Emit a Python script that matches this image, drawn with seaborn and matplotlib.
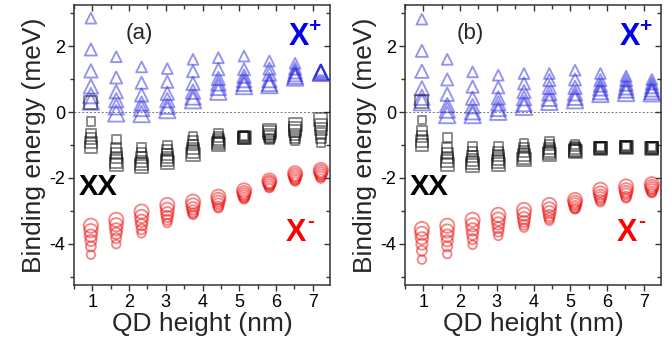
import numpy as np
import pandas as pd
import matplotlib
matplotlib.use("Agg")
import matplotlib.pyplot as plt
import seaborn as sns
from matplotlib.ticker import MultipleLocator

# QD heights (nm) of the ten simulated dot families
heights = [0.96, 1.65, 2.34, 3.04, 3.74, 4.43, 5.13, 5.82, 6.52, 7.22]
# lateral-size rank inside each family (small -> large marker)
size_rank = [0, 1, 2, 3, 4, 5]

# ---- panel (a) binding energies (meV), one row per height, ordered by size_rank
xplus_a = [
    [2.85, 1.90, 1.25, 0.78, 0.50, 0.32],
    [1.68, 1.05, 0.62, 0.36, 0.16, -0.04],
    [1.37, 0.89, 0.52, 0.26, 0.11, -0.06],
    [1.32, 0.92, 0.57, 0.36, 0.18, 0.06],
    [1.60, 1.24, 0.87, 0.62, 0.46, 0.36],
    [1.65, 1.30, 1.02, 0.87, 0.75, 0.62],
    [1.70, 1.30, 1.09, 0.97, 0.87, 0.79],
    [1.55, 1.32, 1.15, 0.97, 0.87, 0.82],
    [1.48, 1.32, 1.22, 1.15, 1.09, 1.05],
    [1.28, 1.25, 1.23, 1.21, 1.20, 1.19],
]
xx_a = [
    [-0.29, -0.65, -0.80, -0.92, -1.05, 0.30],
    [-0.83, -1.10, -1.25, -1.38, -1.50, -1.60],
    [-1.08, -1.25, -1.38, -1.50, -1.58, -1.65],
    [-1.00, -1.15, -1.28, -1.38, -1.45, -1.52],
    [-0.73, -0.88, -1.00, -1.10, -1.20, -1.28],
    [-0.65, -0.75, -0.83, -0.90, -0.95, -0.98],
    [-0.72, -0.74, -0.76, -0.77, -0.78, -0.78],
    [-0.83, -0.80, -0.75, -0.68, -0.62, -0.55],
    [-0.88, -0.78, -0.68, -0.58, -0.50, -0.39],
    [-0.92, -0.78, -0.65, -0.52, -0.39, -0.24],
]
xminus_a = [
    [-4.33, -4.08, -3.90, -3.75, -3.60, -3.45],
    [-4.01, -3.83, -3.68, -3.56, -3.42, -3.27],
    [-3.68, -3.56, -3.42, -3.30, -3.17, -3.02],
    [-3.37, -3.27, -3.17, -3.07, -2.95, -2.82],
    [-3.12, -3.07, -3.00, -2.92, -2.82, -2.72],
    [-2.92, -2.87, -2.79, -2.72, -2.65, -2.57],
    [-2.65, -2.60, -2.55, -2.50, -2.45, -2.38],
    [-2.31, -2.26, -2.21, -2.16, -2.13, -2.08],
    [-2.11, -2.06, -2.01, -1.96, -1.91, -1.86],
    [-2.02, -1.96, -1.91, -1.86, -1.81, -1.76],
]

# ---- panel (b)
xplus_b = [
    [2.82, 1.86, 1.24, 0.72, 0.45, 0.30],
    [1.60, 0.99, 0.54, 0.21, 0.06, -0.09],
    [1.22, 0.77, 0.42, 0.18, 0.01, -0.09],
    [1.12, 0.75, 0.43, 0.26, 0.11, 0.01],
    [1.17, 0.87, 0.62, 0.42, 0.26, 0.16],
    [1.17, 0.97, 0.75, 0.57, 0.42, 0.31],
    [1.27, 0.99, 0.75, 0.57, 0.45, 0.36],
    [1.17, 0.97, 0.82, 0.72, 0.62, 0.55],
    [1.09, 0.97, 0.85, 0.75, 0.67, 0.58],
    [0.99, 0.87, 0.77, 0.69, 0.62, 0.57],
]
xx_b = [
    [-0.24, -0.58, -0.75, -0.88, -1.00, 0.33],
    [-0.77, -1.10, -1.25, -1.38, -1.48, -1.58],
    [-1.05, -1.20, -1.35, -1.45, -1.55, -1.63],
    [-1.05, -1.20, -1.32, -1.42, -1.50, -1.58],
    [-0.95, -1.08, -1.20, -1.30, -1.38, -1.43],
    [-0.90, -1.00, -1.10, -1.18, -1.25, -1.30],
    [-0.98, -1.05, -1.10, -1.15, -1.18, -1.20],
    [-1.06, -1.07, -1.08, -1.09, -1.10, -1.10],
    [-1.03, -1.04, -1.05, -1.06, -1.06, -1.07],
    [-1.06, -1.07, -1.08, -1.09, -1.10, -1.10],
]
xminus_b = [
    [-4.48, -4.21, -4.01, -3.83, -3.68, -3.55],
    [-4.31, -4.08, -3.91, -3.75, -3.61, -3.45],
    [-4.03, -3.86, -3.71, -3.56, -3.42, -3.27],
    [-3.76, -3.63, -3.51, -3.38, -3.25, -3.12],
    [-3.51, -3.42, -3.32, -3.22, -3.10, -2.97],
    [-3.30, -3.22, -3.14, -3.04, -2.94, -2.82],
    [-2.95, -2.92, -2.87, -2.80, -2.74, -2.67],
    [-2.74, -2.67, -2.60, -2.54, -2.46, -2.36],
    [-2.62, -2.57, -2.49, -2.43, -2.36, -2.26],
    [-2.46, -2.42, -2.36, -2.31, -2.26, -2.19],
]

panel_tags = ["(a)", "(b)"]

sns.set_theme(style="ticks")
plt.rcParams["font.family"] = ["Liberation Sans", "DejaVu Sans"]
plt.rcParams["axes.unicode_minus"] = False


def long_frame(values):
    rows = []
    for h, col in zip(heights, values):
        for r, e in zip(size_rank, col):
            rows.append({"height": h, "energy": e, "rank": r})
    return pd.DataFrame(rows)


species = [
    # (key, marker, colour, size range)
    ("xplus", "^", "#2a2ae0", (60, 140)),
    ("xx", "s", "#111111", (38, 88)),
    ("xminus", "o", "#ee1111", (38, 105)),
]

panels = [
    {"xplus": xplus_a, "xx": xx_a, "xminus": xminus_a},
    {"xplus": xplus_b, "xx": xx_b, "xminus": xminus_b},
]


def charge_label(ax, x, y, sign, colour):
    """Bold 'X' with a small raised charge sign."""
    ax.text(x, y, "X", color=colour, fontsize=22, fontweight="bold",
            ha="center", va="center")
    ax.annotate(sign, xy=(x, y), xytext=(11, 8), textcoords="offset points",
                color=colour, fontsize=15, fontweight="bold",
                ha="center", va="center")


fig = plt.figure(figsize=(6.72, 3.46), dpi=100)
lefts = [74 / 672, 405 / 672]
bottom = 1 - 285 / 346
width = 256 / 672
height = 280 / 346

edge = "#333333"
for k, (left, data, tag) in enumerate(zip(lefts, panels, panel_tags)):
    ax = fig.add_axes([left, bottom, width, height])
    ax.axhline(0, color="#777777", lw=0.7, ls=(0, (2, 2)), zorder=0)
    for key, marker, colour, srange in species:
        df = long_frame(data[key])
        sns.scatterplot(
            data=df, x="height", y="energy", size="rank", sizes=srange,
            marker=marker, facecolor="none", edgecolor=colour,
            linewidth=1.35, alpha=0.5, legend=False, ax=ax, zorder=3,
        )
    ax.set_xlim(0.5, 7.47)
    ax.set_ylim(-5.25, 3.25)
    ax.xaxis.set_major_locator(MultipleLocator(1))
    ax.xaxis.set_minor_locator(MultipleLocator(0.5))
    ax.yaxis.set_major_locator(MultipleLocator(2))
    ax.yaxis.set_minor_locator(MultipleLocator(1))
    ax.tick_params(which="both", direction="out", colors=edge, labelcolor="black",
                   labelsize=13, width=1.0)
    ax.tick_params(which="major", length=4.5, pad=2)
    ax.tick_params(which="minor", length=3)
    ax.tick_params(which="both", top=True, right=True)
    for side in ["top", "right", "bottom", "left"]:
        ax.spines[side].set_color(edge)
        ax.spines[side].set_linewidth(1.1)
    # top and right ticks point inward
    for t in ax.xaxis.get_major_ticks() + ax.xaxis.get_minor_ticks():
        t.tick2line.set_marker(3)
    for t in ax.yaxis.get_major_ticks() + ax.yaxis.get_minor_ticks():
        t.tick2line.set_marker(0)
    ax.set_xlabel("QD height (nm)", fontsize=19, labelpad=1)
    ax.set_ylabel("Binding energy (meV)", fontsize=19, labelpad=2)

    ax.text(2.28, 2.39, tag, fontsize=16, ha="center", va="center")
    charge_label(ax, 6.62, 2.27, "+", "#0000ee")
    ax.text(1.17, -2.29, "XX", color="black", fontsize=21, fontweight="bold",
            ha="center", va="center")
    charge_label(ax, 6.54, -3.67, "-", "#ff0000")

fig.savefig("out.png", dpi=100)
